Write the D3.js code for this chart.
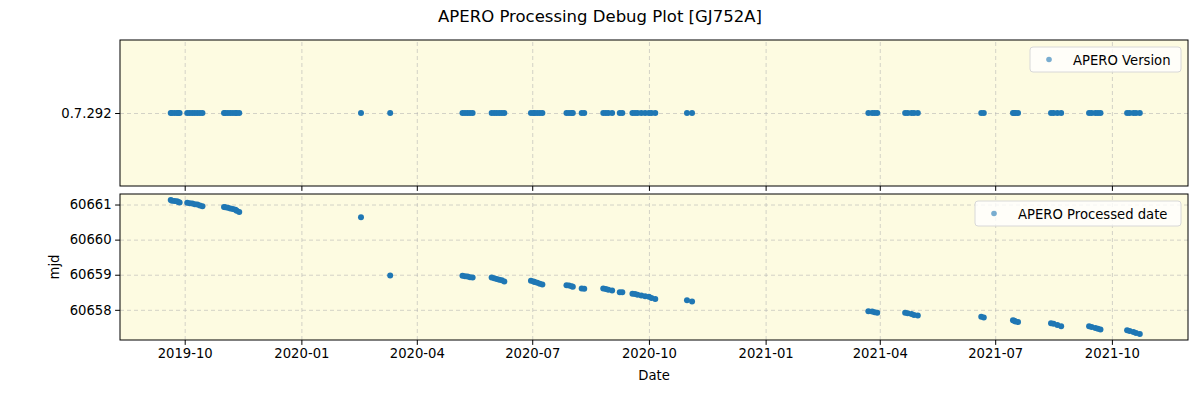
<!DOCTYPE html>
<html>
<head>
<meta charset="utf-8">
<script src="https://cdn.jsdelivr.net/npm/d3@7"></script>
<style>
  body { margin: 0; background: #fff; }
  svg { font-family: "DejaVu Sans", sans-serif; }
  .grid line { stroke: #b0b0b0; stroke-opacity: 0.55; stroke-dasharray: 4,3; }
  .grid path { display: none; }
</style>
</head>
<body>
<svg id="chart" width="1200" height="400"></svg>
<script>
const dates = [
  "2019-09-20","2019-09-21","2019-09-23","2019-09-25","2019-09-26","2019-09-27",
  "2019-10-03","2019-10-05","2019-10-07","2019-10-09","2019-10-11","2019-10-13","2019-10-15",
  "2019-11-01","2019-11-02","2019-11-04","2019-11-06","2019-11-08","2019-11-10","2019-11-11","2019-11-13",
  "2020-02-17","2020-03-11",
  "2020-05-07","2020-05-09","2020-05-11","2020-05-13","2020-05-15",
  "2020-05-30","2020-06-01","2020-06-03","2020-06-05","2020-06-07","2020-06-09",
  "2020-06-30","2020-07-02","2020-07-03","2020-07-05","2020-07-07","2020-07-09",
  "2020-07-28","2020-07-30","2020-08-01","2020-08-02",
  "2020-08-09","2020-08-11",
  "2020-08-26","2020-08-28","2020-08-30","2020-09-02",
  "2020-09-08","2020-09-10",
  "2020-09-18","2020-09-20","2020-09-22","2020-09-25","2020-09-28","2020-10-01","2020-10-03","2020-10-06",
  "2020-10-31","2020-11-04",
  "2021-03-23","2021-03-26","2021-03-28","2021-03-30",
  "2021-04-21","2021-04-23","2021-04-26","2021-04-28","2021-05-01",
  "2021-06-20","2021-06-22",
  "2021-07-15","2021-07-16","2021-07-17","2021-07-19",
  "2021-08-14","2021-08-16","2021-08-19","2021-08-22",
  "2021-09-13","2021-09-15","2021-09-18","2021-09-20","2021-09-22",
  "2021-10-13","2021-10-15","2021-10-18","2021-10-20","2021-10-23"
];
const mjdValues = [
  60661.13,60661.11,60661.10,60661.09,60661.07,60661.06,
  60661.05,60661.04,60661.03,60661.01,60661.00,60660.97,60660.95,
  60660.93,60660.92,60660.91,60660.89,60660.87,60660.85,60660.82,60660.79,
  60660.634,60658.98,
  60658.97,60658.96,60658.95,60658.93,60658.92,
  60658.92,60658.90,60658.88,60658.86,60658.84,60658.81,
  60658.83,60658.81,60658.79,60658.77,60658.74,60658.72,
  60658.70,60658.69,60658.67,60658.66,
  60658.61,60658.60,
  60658.61,60658.59,60658.57,60658.55,
  60658.50,60658.50,
  60658.46,60658.45,60658.43,60658.41,60658.39,60658.37,60658.34,60658.31,
  60658.27,60658.24,
  60657.96,60657.95,60657.93,60657.92,
  60657.92,60657.90,60657.88,60657.85,60657.84,
  60657.80,60657.78,
  60657.70,60657.69,60657.67,60657.65,
  60657.62,60657.60,60657.57,60657.53,
  60657.53,60657.51,60657.48,60657.46,60657.44,
  60657.42,60657.40,60657.37,60657.34,60657.31
];
const versionLabel = "0.7.292";
const xTickLabels = ["2019-10","2020-01","2020-04","2020-07","2020-10","2021-01","2021-04","2021-07","2021-10"];
const mjdTicks = [60658, 60659, 60660, 60661];

const parse = d3.timeParse("%Y-%m-%d");
const points = dates.map((d, i) => ({date: parse(d), mjd: mjdValues[i], version: versionLabel}));

const svg = d3.select("#chart");
const left = 120, right = 1188;
const top1 = 40, bot1 = 186, top2 = 194, bot2 = 340;
const bg = "#fdfbe1", col = "#1f77b4";

const x = d3.scaleTime()
  .domain([parse("2019-08-11"), parse("2021-11-30")])
  .range([left, right]);
const yTop = d3.scalePoint().domain([versionLabel]).range([bot1, top1]).padding(0.5);
const yBot = d3.scaleLinear().domain([60657.14, 60661.3]).range([bot2, top2]);
const xTicks = xTickLabels.map(s => d3.timeParse("%Y-%m")(s));
const fmt = d3.timeFormat("%Y-%m");

svg.append("text").attr("x", 600).attr("y", 22).attr("text-anchor", "middle")
  .attr("font-size", 16.5).text("APERO Processing Debug Plot [GJ752A]");

function panel(top, bot, yScale, yTicks, yFmt, showX) {
  const g = svg.append("g");
  g.append("rect").attr("x", left).attr("y", top).attr("width", right - left).attr("height", bot - top).attr("fill", bg);
  g.append("g").attr("class", "grid").attr("transform", `translate(0,${bot})`)
    .call(d3.axisBottom(x).tickValues(xTicks).tickSize(-(bot - top)).tickFormat(""));
  g.append("g").attr("class", "grid").attr("transform", `translate(${left},0)`)
    .call(d3.axisLeft(yScale).tickValues(yTicks).tickSize(-(right - left)).tickFormat(""));
  const ax = g.append("g").attr("transform", `translate(0,${bot})`)
    .call(d3.axisBottom(x).tickValues(xTicks).tickSizeOuter(0).tickSize(4.9).tickPadding(3.5)
      .tickFormat(showX ? fmt : ""));
  const ay = g.append("g").attr("transform", `translate(${left},0)`)
    .call(d3.axisLeft(yScale).tickValues(yTicks).tickSizeOuter(0).tickSize(4.9).tickPadding(3.5).tickFormat(yFmt));
  [ax, ay].forEach(a => {
    a.select(".domain").remove();
    a.selectAll("text").attr("font-size", 13.2).attr("fill", "#000").attr("font-family", "DejaVu Sans");
  });
  g.append("rect").attr("x", left).attr("y", top).attr("width", right - left).attr("height", bot - top)
    .attr("fill", "none").attr("stroke", "#000").attr("stroke-width", 1);
  return g;
}

const g1 = panel(top1, bot1, yTop, [versionLabel], d => d, false);
const g2 = panel(top2, bot2, yBot, mjdTicks, d => d, true);

g1.append("g").selectAll("circle").data(points).join("circle")
  .attr("cx", d => x(d.date)).attr("cy", d => yTop(d.version)).attr("r", 3).attr("fill", col);
g2.append("g").selectAll("circle").data(points).join("circle")
  .attr("cx", d => x(d.date)).attr("cy", d => yBot(d.mjd)).attr("r", 3).attr("fill", col);

function legend(label, x0, y0, w) {
  const lg = svg.append("g").attr("transform", `translate(${x0},${y0})`);
  lg.append("rect").attr("width", w).attr("height", 25).attr("rx", 3)
    .attr("fill", "#fff").attr("fill-opacity", 0.8).attr("stroke", "#d8d8d8");
  lg.append("circle").attr("cx", 19).attr("cy", 12.5).attr("r", 2.8).attr("fill", col).attr("opacity", 0.6);
  lg.append("text").attr("x", 43).attr("y", 17.5).attr("font-size", 13.2).text(label);
}
legend("APERO Version", 1030, 47, 151);
legend("APERO Processed date", 975, 201, 206);

svg.append("text").attr("x", 654).attr("y", 380).attr("text-anchor", "middle").attr("font-size", 13.2).text("Date");
svg.append("text").attr("transform", "translate(59,267) rotate(-90)").attr("text-anchor", "middle")
  .attr("font-size", 13.2).text("mjd");
</script>
</body>
</html>
